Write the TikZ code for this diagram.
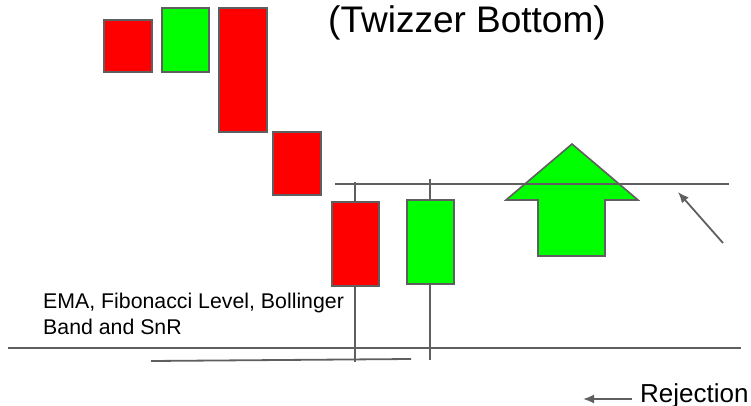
\documentclass[tikz,border=0pt]{standalone}
\usepackage{fontspec}
\setmainfont{Liberation Sans}
\usetikzlibrary{arrows.meta}
\definecolor{bull}{RGB}{0,255,0}
\definecolor{bear}{RGB}{255,0,0}
\definecolor{ink}{RGB}{95,95,95}

\begin{document}
\begin{tikzpicture}[x=1pt,y=-1pt,>={Latex[length=11pt,width=9pt]},
  candle/.style={draw=ink,line width=1.6pt},
  level/.style={draw=ink,line width=1.8pt}]
\useasboundingbox (0,0) rectangle (751,406);
% falling candles
\filldraw[candle,fill=bear] (104,20) rectangle (152,72);
\filldraw[candle,fill=bull] (162,8) rectangle (209,72);
\filldraw[candle,fill=bear] (219,8) rectangle (267,132);
\filldraw[candle,fill=bear] (273,132) rectangle (321,195);
% tweezer pair
\draw[level] (355,182) -- (355,362);
\draw[level] (430,179) -- (430,360);
\filldraw[candle,fill=bear] (332,202) rectangle (379,286);
\filldraw[candle,fill=bull] (407,200) rectangle (454,284);
% up arrow
\filldraw[candle,fill=bull] (572,144) -- (638,200) -- (605,200) -- (605,256)
  -- (538,256) -- (538,200) -- (506,200) -- cycle;
% levels
\draw[level] (335,184) -- (729,184);
\draw[level] (8,348) -- (741,348);
\draw[level] (151,361) -- (411,359);
\coordinate (hit) at (678,192);
\draw[level,->] (723,243) -- (hit);
% labels
\node[anchor=base west,inner sep=0,font=\fontsize{37}{44}\selectfont] (title) at (328,33) {(Twizzer Bottom)};
\node[anchor=base west,inner sep=0,font=\fontsize{21.3}{26}\selectfont] (ind1) at (43,308) {EMA, Fibonacci Level, Bollinger};
\node[anchor=base west,inner sep=0,font=\fontsize{21.3}{26}\selectfont] (ind2) at (43,334) {Band and SnR};
\node[anchor=base west,inner sep=0,font=\fontsize{26}{30}\selectfont] (rej) at (640,402) {Rejection};
\coordinate (rejtip) at (583,399);
\draw[level,->] ([xshift=-8pt]rej.west |- rejtip) -- (rejtip);
\end{tikzpicture}
\end{document}
